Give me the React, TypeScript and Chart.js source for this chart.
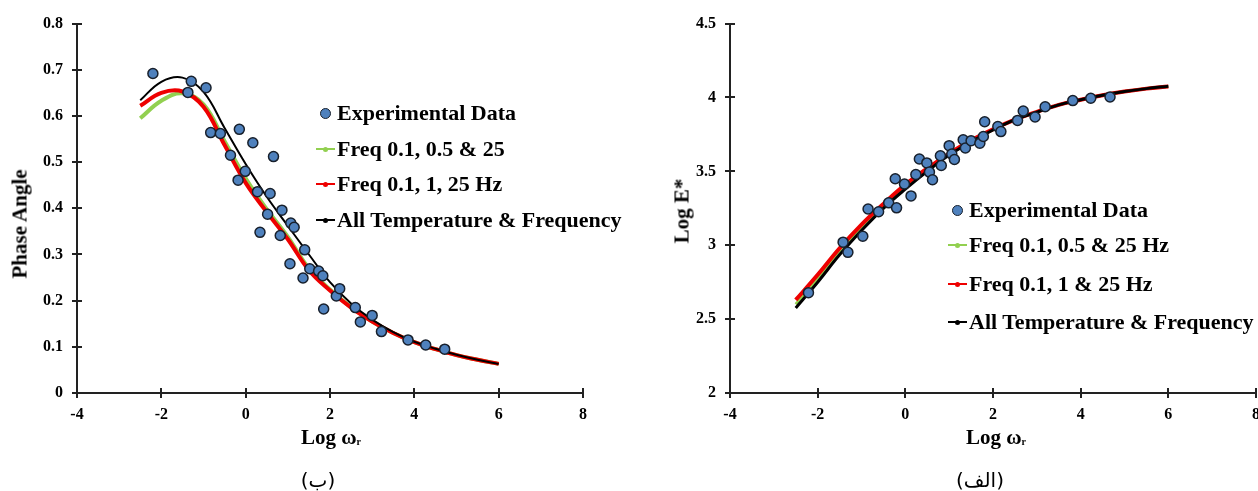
import React, { useEffect, useRef } from "react";
import { Chart, registerables } from "chart.js";

Chart.register(...registerables);

// ---- Phase angle vs. reduced frequency (panel ب) ----
const phaseExpX = [-2.2, -1.37, -1.29, -0.94, -0.83, -0.6, -0.36, -0.18, -0.15, -0.01, 0.17, 0.28, 0.34, 0.52, 0.58, 0.66, 0.82, 0.86, 1.05, 1.07, 1.15, 1.36, 1.4, 1.52, 1.73, 1.83, 1.85, 2.15, 2.23, 2.6, 2.72, 3.0, 3.22, 3.85, 4.27, 4.72];
const phaseExpY = [0.692, 0.651, 0.675, 0.661, 0.564, 0.562, 0.515, 0.461, 0.571, 0.48, 0.542, 0.436, 0.348, 0.387, 0.432, 0.512, 0.341, 0.396, 0.28, 0.368, 0.359, 0.249, 0.31, 0.269, 0.264, 0.254, 0.182, 0.21, 0.226, 0.185, 0.154, 0.168, 0.133, 0.115, 0.104, 0.095];

const fitX = [-2.5, -2, -1.5, -1, -0.5, 0, 0.5, 1, 1.5, 2, 2.5, 3, 3.5, 4, 4.5, 5, 5.5, 6];
const phaseFitAll = [0.634, 0.674, 0.683, 0.652, 0.574, 0.496, 0.425, 0.362, 0.3, 0.24, 0.194, 0.159, 0.132, 0.111, 0.096, 0.083, 0.072, 0.063];
const phaseFitHz1 = [0.622, 0.65, 0.653, 0.62, 0.537, 0.455, 0.392, 0.333, 0.266, 0.222, 0.185, 0.155, 0.13, 0.11, 0.095, 0.082, 0.072, 0.063];
const phaseFitHz05 = [0.595, 0.633, 0.649, 0.625, 0.545, 0.465, 0.398, 0.338, 0.27, 0.224, 0.186, 0.155, 0.13, 0.11, 0.095, 0.082, 0.072, 0.063];

// ---- Log |E*| vs. reduced frequency (panel الف) ----
const modExpX = [-2.21, -1.42, -1.31, -0.97, -0.85, -0.61, -0.38, -0.23, -0.2, -0.02, 0.13, 0.24, 0.32, 0.49, 0.55, 0.62, 0.8, 0.82, 1.0, 1.06, 1.12, 1.32, 1.37, 1.5, 1.7, 1.78, 1.81, 2.11, 2.18, 2.56, 2.69, 2.96, 3.19, 3.82, 4.23, 4.67];
const modExpY = [2.679, 3.021, 2.952, 3.061, 3.245, 3.227, 3.287, 3.45, 3.253, 3.414, 3.334, 3.479, 3.584, 3.557, 3.495, 3.443, 3.606, 3.54, 3.674, 3.617, 3.58, 3.714, 3.658, 3.707, 3.691, 3.736, 3.836, 3.803, 3.769, 3.845, 3.908, 3.868, 3.937, 3.979, 3.995, 4.004];

const modFitAll = [2.575, 2.75, 2.935, 3.1, 3.25, 3.38, 3.5, 3.61, 3.7, 3.78, 3.85, 3.9, 3.95, 3.985, 4.015, 4.04, 4.06, 4.076];
const modFitHz1 = [2.63, 2.8, 2.98, 3.14, 3.28, 3.41, 3.52, 3.62, 3.71, 3.785, 3.85, 3.903, 3.95, 3.985, 4.015, 4.04, 4.06, 4.075];
const modFitHz05 = [2.6, 2.775, 2.958, 3.12, 3.265, 3.395, 3.51, 3.615, 3.705, 3.782, 3.85, 3.902, 3.95, 3.985, 4.015, 4.04, 4.06, 4.075];

// ---- Axis ticks ----
const xTicks = [-4, -2, 0, 2, 4, 6, 8];
const phaseTicks = [0, 0.1, 0.2, 0.3, 0.4, 0.5, 0.6, 0.7, 0.8];
const modTicks = [2, 2.5, 3, 3.5, 4, 4.5];

const POINT_FILL = "#4F81BD";
const POINT_EDGE = "#18202c";
const RED = "#EE0000";
const GREEN = "#92D050";
const BLACK = "#000000";
const AXIS = "#222222";
const SERIF = '"Liberation Serif", "Times New Roman", serif';

const toPoints = (xs: number[], ys: number[]) => xs.map((x, i) => ({ x, y: ys[i] }));

// Excel-style tick marks that cross the axis line
const crossTicks = {
  id: "crossTicks",
  afterDraw(chart: any) {
    const { ctx, chartArea, scales } = chart;
    ctx.save();
    ctx.strokeStyle = AXIS;
    ctx.lineWidth = 2;
    scales.x.ticks.forEach((t: any) => {
      const px = Math.round(scales.x.getPixelForValue(t.value));
      ctx.beginPath();
      ctx.moveTo(px, chartArea.bottom - 5);
      ctx.lineTo(px, chartArea.bottom + 5);
      ctx.stroke();
    });
    scales.y.ticks.forEach((t: any) => {
      const py = Math.round(scales.y.getPixelForValue(t.value));
      ctx.beginPath();
      ctx.moveTo(chartArea.left - 5, py);
      ctx.lineTo(chartArea.left + 5, py);
      ctx.stroke();
    });
    ctx.restore();
  },
};

type PanelProps = {
  left: number;
  width: number;
  height: number;
  yAxisWidth: number;
  padRight: number;
  yMin: number;
  yMax: number;
  yTicks: number[];
  expX: number[];
  expY: number[];
  all: number[];
  hz1: number[];
  hz05: number[];
  lineWidths: [number, number, number];
};

function Panel(p: PanelProps) {
  const ref = useRef<HTMLCanvasElement | null>(null);
  useEffect(() => {
    if (!ref.current) return;
    const tickFont = { family: SERIF, size: 16, weight: "bold" as const };
    const curve = (label: string, ys: number[], color: string, width: number) => ({
      label,
      data: toPoints(fitX, ys),
      showLine: true,
      pointRadius: 0,
      borderColor: color,
      backgroundColor: color,
      borderWidth: width,
      tension: 0.4,
    });
    const chart = new Chart(ref.current, {
      type: "scatter",
      data: {
        datasets: [
          {
            label: "Experimental Data",
            data: toPoints(p.expX, p.expY),
            pointRadius: 5,
            pointBorderWidth: 1.5,
            backgroundColor: POINT_FILL,
            borderColor: POINT_EDGE,
            showLine: false,
          },
          curve("All Temperature & Frequency", p.all, BLACK, p.lineWidths[0]),
          curve("Freq 0.1, 1 & 25 Hz", p.hz1, RED, p.lineWidths[1]),
          curve("Freq 0.1, 0.5 & 25 Hz", p.hz05, GREEN, p.lineWidths[2]),
        ],
      },
      options: {
        animation: false,
        responsive: false,
        maintainAspectRatio: false,
        layout: { padding: { top: 20, right: p.padRight, left: 0, bottom: 0 } },
        plugins: { legend: { display: false }, tooltip: { enabled: false } },
        scales: {
          x: {
            type: "linear",
            min: -4,
            max: 8,
            grid: { display: false, drawTicks: false },
            border: { display: true, color: AXIS, width: 2 },
            ticks: { font: tickFont, color: "#000", padding: 12, autoSkip: false, maxRotation: 0, callback: (v: any) => String(v) },
            afterBuildTicks: (s: any) => {
              s.ticks = xTicks.map((value) => ({ value }));
            },
            afterFit: (s: any) => {
              s.height = p.height - 393;
            },
          },
          y: {
            type: "linear",
            min: p.yMin,
            max: p.yMax,
            grid: { display: false, drawTicks: false },
            border: { display: true, color: AXIS, width: 2 },
            ticks: { font: tickFont, color: "#000", padding: 14, autoSkip: false, callback: (v: any) => String(v) },
            afterBuildTicks: (s: any) => {
              s.ticks = p.yTicks.map((value) => ({ value }));
            },
            afterFit: (s: any) => {
              s.width = p.yAxisWidth;
            },
          },
        },
      },
      plugins: [crossTicks],
    });
    return () => chart.destroy();
  }, []);
  return (
    <canvas
      ref={ref}
      width={p.width}
      height={p.height}
      style={{ position: "absolute", left: p.left, top: 0, width: p.width, height: p.height }}
    />
  );
}

const Dot = () => (
  <span
    style={{
      display: "inline-block",
      width: 11,
      height: 11,
      borderRadius: "50%",
      background: POINT_FILL,
      border: `1.5px solid ${POINT_EDGE}`,
      boxSizing: "border-box",
    }}
  />
);

const LineMark = ({ color }: { color: string }) => (
  <span style={{ position: "relative", display: "inline-block", width: 19, height: 2, background: color }}>
    <span
      style={{ position: "absolute", left: 7, top: -1.5, width: 5, height: 5, borderRadius: "50%", background: color }}
    />
  </span>
);

function LegendRow({ x, y, mark, text }: { x: number; y: number; mark: React.ReactNode; text: string }) {
  return (
    <div
      style={{
        position: "absolute",
        left: x,
        top: y - 11,
        height: 22,
        display: "flex",
        alignItems: "center",
        whiteSpace: "nowrap",
        font: `bold 22px ${SERIF}`,
        lineHeight: "22px",
        color: "#000",
      }}
    >
      <span style={{ width: 19, display: "flex", justifyContent: "center", alignItems: "center" }}>{mark}</span>
      <span style={{ marginLeft: 2 }}>{text}</span>
    </div>
  );
}

const centered = (x: number, y: number, extra: React.CSSProperties = {}): React.CSSProperties => ({
  position: "absolute",
  left: x,
  top: y,
  transform: "translate(-50%, -50%)",
  whiteSpace: "nowrap",
  lineHeight: 1,
  ...extra,
});

const LogOmega = ({ x }: { x: number }) => (
  <div style={centered(x, 437, { font: `bold 21px ${SERIF}`, lineHeight: 1 })}>
    Log ω<span style={{ fontSize: 10, verticalAlign: "-1px" }}>r</span>
  </div>
);

export default function App() {
  return (
    <div
      style={{
        position: "absolute",
        left: 0,
        top: 0,
        width: 1258,
        height: 491,
        overflow: "hidden",
        background: "#fff",
        color: "#000",
      }}
    >
      <Panel
        left={0}
        width={640}
        height={440}
        yAxisWidth={77}
        padRight={57}
        yMin={0}
        yMax={0.8}
        yTicks={phaseTicks}
        expX={phaseExpX}
        expY={phaseExpY}
        all={phaseFitAll}
        hz1={phaseFitHz1}
        hz05={phaseFitHz05}
        lineWidths={[2, 4, 4]}
      />
      <Panel
        left={640}
        width={640}
        height={440}
        yAxisWidth={90}
        padRight={24}
        yMin={2}
        yMax={4.5}
        yTicks={modTicks}
        expX={modExpX}
        expY={modExpY}
        all={modFitAll}
        hz1={modFitHz1}
        hz05={modFitHz05}
        lineWidths={[3, 4, 3]}
      />

      {/* axis titles */}
      <div style={centered(20, 224, { font: `bold 21px ${SERIF}`, transform: "translate(-50%, -50%) rotate(-90deg)" })}>
        Phase Angle
      </div>
      <div style={centered(682, 211, { font: `bold 21px ${SERIF}`, transform: "translate(-50%, -50%) rotate(-90deg)" })}>
        Log E*
      </div>
      <LogOmega x={331} />
      <LogOmega x={996} />

      {/* legends */}
      <LegendRow x={316} y={113} mark={<Dot />} text="Experimental Data" />
      <LegendRow x={316} y={149} mark={<LineMark color={GREEN} />} text="Freq 0.1, 0.5 & 25" />
      <LegendRow x={316} y={184} mark={<LineMark color={RED} />} text="Freq 0.1, 1, 25 Hz" />
      <LegendRow x={316} y={220} mark={<LineMark color={BLACK} />} text="All Temperature & Frequency" />

      <LegendRow x={948} y={210} mark={<Dot />} text="Experimental Data" />
      <LegendRow x={948} y={245} mark={<LineMark color={GREEN} />} text="Freq 0.1, 0.5 & 25 Hz" />
      <LegendRow x={948} y={284} mark={<LineMark color={RED} />} text="Freq 0.1, 1 & 25 Hz" />
      <LegendRow x={948} y={322} mark={<LineMark color={BLACK} />} text="All Temperature & Frequency" />

      {/* panel captions */}
      <div style={centered(318, 480, { font: `20px "DejaVu Sans", sans-serif` })}>(ب)</div>
      <div style={centered(980, 480, { font: `20px "DejaVu Sans", sans-serif` })}>(الف)</div>
    </div>
  );
}
